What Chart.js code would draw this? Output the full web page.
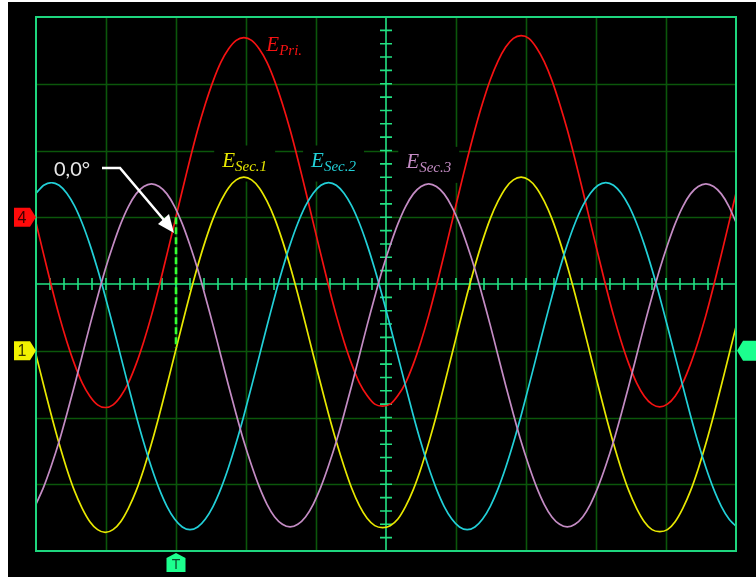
<!DOCTYPE html>
<html>
<head>
<meta charset="utf-8">
<script src="https://cdn.jsdelivr.net/npm/chart.js@4/dist/chart.umd.min.js"></script>
<style>
  html, body { margin: 0; padding: 0; background: #fff; overflow: hidden; }
  canvas { display: block; }
</style>
</head>
<body>
<canvas id="scope" width="756" height="577"></canvas>
<script>
// Sample instants, in horizontal divisions (10 divisions across the screen)
const times = [
  0.00, 0.11, 0.22, 0.33, 0.44, 0.55, 0.66, 0.77, 0.88, 0.99,
  1.10, 1.21, 1.32, 1.43, 1.54, 1.65, 1.76, 1.87, 1.98, 2.09,
  2.20, 2.31, 2.42, 2.53, 2.64, 2.75, 2.86, 2.97, 3.08, 3.19,
  3.30, 3.41, 3.52, 3.63, 3.74, 3.85, 3.96, 4.07, 4.18, 4.29,
  4.40, 4.51, 4.62, 4.73, 4.84, 4.95, 5.06, 5.17, 5.28, 5.39,
  5.50, 5.61, 5.72, 5.83, 5.94, 6.05, 6.16, 6.27, 6.38, 6.49,
  6.60, 6.71, 6.82, 6.93, 7.04, 7.15, 7.26, 7.37, 7.48, 7.59,
  7.70, 7.81, 7.92, 8.03, 8.14, 8.25, 8.36, 8.47, 8.58, 8.69,
  8.80, 8.91, 9.02, 9.13, 9.24, 9.35, 9.46, 9.57, 9.68, 9.79,
  9.90, 10.01
];

// Primary voltage (channel 4), vertical divisions
const ePri = [
  0.92, 0.44, -0.03, -0.47, -0.86, -1.20, -1.48, -1.68, -1.81, -1.85, -1.81, -1.68, -1.48, -1.20, -0.86, -0.47, -0.03, 0.44,
  0.92, 1.40, 1.87, 2.31, 2.70, 3.04, 3.32, 3.52, 3.65, 3.69, 3.65, 3.52, 3.32, 3.04, 2.70, 2.31, 1.87, 1.40,
  0.92, 0.44, -0.03, -0.47, -0.86, -1.20, -1.48, -1.67, -1.80, -1.83, -1.80, -1.67, -1.48, -1.20, -0.86, -0.47, -0.03, 0.44,
  0.92, 1.40, 1.87, 2.31, 2.71, 3.06, 3.34, 3.55, 3.68, 3.72, 3.68, 3.54, 3.33, 3.05, 2.70, 2.31, 1.87, 1.40,
  0.92, 0.44, -0.03, -0.47, -0.86, -1.20, -1.48, -1.68, -1.80, -1.84, -1.80, -1.68, -1.48, -1.20, -0.86, -0.47, -0.03, 0.44,
  0.92, 1.40
];

// Secondary phase 1 (channel 1)
const eSec1 = [
  -1.06, -1.52, -1.97, -2.39, -2.77, -3.10, -3.36, -3.56, -3.68, -3.72, -3.68, -3.56, -3.36, -3.10, -2.77, -2.39, -1.97, -1.52,
  -1.06, -0.60, -0.15, 0.27, 0.65, 0.98, 1.24, 1.44, 1.56, 1.60, 1.56, 1.44, 1.24, 0.98, 0.65, 0.27, -0.15, -0.60,
  -1.06, -1.51, -1.95, -2.36, -2.73, -3.06, -3.32, -3.51, -3.62, -3.65, -3.62, -3.52, -3.33, -3.08, -2.76, -2.38, -1.97, -1.52,
  -1.06, -0.60, -0.15, 0.27, 0.65, 0.98, 1.24, 1.44, 1.56, 1.60, 1.56, 1.44, 1.24, 0.98, 0.65, 0.27, -0.15, -0.60,
  -1.06, -1.52, -1.97, -2.39, -2.77, -3.10, -3.36, -3.56, -3.68, -3.71, -3.68, -3.56, -3.36, -3.10, -2.77, -2.39, -1.97, -1.52,
  -1.06, -0.60
];

// Secondary phase 2
const eSec2 = [
  1.36, 1.48, 1.52, 1.48, 1.36, 1.17, 0.91, 0.59, 0.22, -0.19, -0.63, -1.08, -1.53, -1.97, -2.38, -2.75, -3.07, -3.33,
  -3.52, -3.64, -3.68, -3.64, -3.52, -3.33, -3.07, -2.75, -2.38, -1.97, -1.53, -1.08, -0.63, -0.19, 0.22, 0.59, 0.91, 1.17,
  1.36, 1.48, 1.52, 1.48, 1.36, 1.17, 0.91, 0.59, 0.22, -0.19, -0.63, -1.08, -1.53, -1.97, -2.38, -2.75, -3.07, -3.33,
  -3.52, -3.64, -3.68, -3.64, -3.52, -3.33, -3.07, -2.75, -2.38, -1.97, -1.53, -1.08, -0.63, -0.19, 0.22, 0.59, 0.91, 1.17,
  1.36, 1.48, 1.52, 1.48, 1.36, 1.17, 0.91, 0.59, 0.22, -0.19, -0.63, -1.08, -1.53, -1.97, -2.38, -2.75, -3.07, -3.33,
  -3.52, -3.64
];

// Secondary phase 3
const eSec3 = [
  -3.30, -3.04, -2.72, -2.36, -1.95, -1.52, -1.07, -0.62, -0.19, 0.22, 0.58, 0.90, 1.16, 1.35, 1.46, 1.50, 1.46, 1.35,
  1.16, 0.90, 0.58, 0.22, -0.19, -0.62, -1.07, -1.52, -1.95, -2.36, -2.72, -3.04, -3.30, -3.49, -3.60, -3.64, -3.60, -3.49,
  -3.30, -3.04, -2.72, -2.36, -1.95, -1.52, -1.07, -0.62, -0.19, 0.22, 0.58, 0.90, 1.16, 1.35, 1.46, 1.50, 1.46, 1.35,
  1.16, 0.90, 0.58, 0.22, -0.19, -0.62, -1.07, -1.52, -1.95, -2.36, -2.72, -3.04, -3.30, -3.49, -3.60, -3.64, -3.60, -3.49,
  -3.30, -3.04, -2.72, -2.36, -1.95, -1.52, -1.07, -0.62, -0.19, 0.22, 0.58, 0.90, 1.16, 1.35, 1.46, 1.50, 1.46, 1.35,
  1.16, 0.90
];

// Screen divisions and channel markers
const xRange = [0, 10];
const yRange = [-4, 4];
const ch4Offset = 1;
const ch1Offset = -1;
const triggerTime = 2.0;
const triggerLevel = -1;
const phaseLabel = '0,0°';

const COLORS = {
  pri: '#f51212',
  sec1: '#e8e800',
  sec2: '#22d0d8',
  sec3: '#c48cc4',
  grid: '#0b560b',
  axis: '#22e283',
  frame: '#1ed67e',
  marker: '#1cff8e',
  dash: '#33ff33'
};

const toPoints = vals => times.map((t, i) => ({ x: t, y: vals[i] }));

const scopeScreen = {
  id: 'scopeScreen',
  beforeDraw(chart) {
    const ctx = chart.ctx;
    ctx.save();
    ctx.fillStyle = '#ffffff';
    ctx.fillRect(0, 0, chart.width, chart.height);
    ctx.fillStyle = '#000000';
    ctx.fillRect(8, 2, chart.width - 8, chart.height - 2);
    ctx.restore();
  },
  beforeDatasetsDraw(chart) {
    const ctx = chart.ctx;
    const xs = chart.scales.x, ys = chart.scales.y;
    const a = chart.chartArea;
    const x0 = xs.getPixelForValue(5), y0 = ys.getPixelForValue(0);
    ctx.save();
    // graticule
    ctx.strokeStyle = COLORS.grid;
    ctx.lineWidth = 1.6;
    ctx.beginPath();
    for (let i = 1; i < 10; i++) {
      if (i === 5) continue;
      const px = Math.round(xs.getPixelForValue(i)) + 0.5;
      ctx.moveTo(px, a.top); ctx.lineTo(px, a.bottom);
    }
    for (let j = -3; j <= 3; j++) {
      if (j === 0) continue;
      const py = Math.round(ys.getPixelForValue(j)) + 0.5;
      ctx.moveTo(a.left, py); ctx.lineTo(a.right, py);
    }
    ctx.stroke();

    // centre axes with minor ticks
    ctx.strokeStyle = COLORS.axis;
    ctx.lineWidth = 1.6;
    ctx.beginPath();
    ctx.moveTo(a.left, y0); ctx.lineTo(a.right, y0);
    ctx.moveTo(x0, a.top); ctx.lineTo(x0, a.bottom);
    for (let k = 1; k < 50; k++) {
      const px = xs.getPixelForValue(k * 0.2);
      ctx.moveTo(px, y0 - 6); ctx.lineTo(px, y0 + 6);
    }
    for (let k = 1; k < 40; k++) {
      const py = ys.getPixelForValue(-4 + k * 0.2);
      ctx.moveTo(x0 - 6, py); ctx.lineTo(x0 + 6, py);
    }
    ctx.stroke();

    // trace labels on black boxes
    const labels = [
      { x: 3.29, y: 3.49, main: 'E', sub: 'Pri.', color: COLORS.pri, box: false },
      { x: 2.66, y: 1.76, main: 'E', sub: 'Sec.1', color: COLORS.sec1, box: true },
      { x: 3.93, y: 1.76, main: 'E', sub: 'Sec.2', color: COLORS.sec2, box: true },
      { x: 5.29, y: 1.74, main: 'E', sub: 'Sec.3', color: COLORS.sec3, box: true }
    ];
    labels.forEach(l => {
      const px = xs.getPixelForValue(l.x), py = ys.getPixelForValue(l.y);
      ctx.font = 'italic 21px "Liberation Serif", serif';
      const wMain = ctx.measureText(l.main).width;
      ctx.font = 'italic 15px "Liberation Serif", serif';
      const wSub = ctx.measureText(l.sub).width;
      if (l.box) {
        ctx.fillStyle = '#000';
        ctx.fillRect(px - 8, py - 21, wMain + wSub + 16, 36);
      }
      ctx.fillStyle = l.color;
      ctx.font = 'italic 21px "Liberation Serif", serif';
      ctx.fillText(l.main, px, py);
      ctx.font = 'italic 15px "Liberation Serif", serif';
      ctx.fillText(l.sub, px + wMain, py + 4);
    });
    ctx.restore();
  },
  afterDatasetsDraw(chart) {
    const ctx = chart.ctx;
    const xs = chart.scales.x, ys = chart.scales.y;
    const a = chart.chartArea;
    ctx.save();
    // trigger reference dashed line
    const tx = xs.getPixelForValue(triggerTime);
    ctx.strokeStyle = COLORS.dash;
    ctx.lineWidth = 2.6;
    ctx.setLineDash([7, 3]);
    ctx.beginPath();
    ctx.moveTo(tx, ys.getPixelForValue(ch4Offset));
    ctx.lineTo(tx, ys.getPixelForValue(ch1Offset) - 3);
    ctx.stroke();
    ctx.setLineDash([]);

    // phase annotation with arrow
    ctx.fillStyle = '#000';
    ctx.fillRect(50, 154, 50, 28);
    ctx.fillStyle = '#e8e8e8';
    ctx.font = '20px Lato, "Open Sans", sans-serif';
    ctx.fillText(phaseLabel, 54, 176);
    ctx.strokeStyle = '#ffffff';
    ctx.lineWidth = 2.6;
    ctx.beginPath();
    ctx.moveTo(102, 168);
    ctx.lineTo(120, 168);
    ctx.lineTo(164, 220);
    ctx.stroke();
    ctx.fillStyle = '#ffffff';
    ctx.beginPath();
    ctx.moveTo(174, 233);
    ctx.lineTo(158, 224);
    ctx.lineTo(169, 214);
    ctx.closePath();
    ctx.fill();

    // screen frame
    ctx.strokeStyle = COLORS.frame;
    ctx.lineWidth = 2;
    ctx.strokeRect(a.left, a.top, a.right - a.left, a.bottom - a.top);
    ctx.restore();
  },
  afterDraw(chart) {
    const ctx = chart.ctx;
    const xs = chart.scales.x, ys = chart.scales.y;
    const a = chart.chartArea;
    ctx.save();
    const leftTag = (y, fill, text, textColor) => {
      ctx.fillStyle = fill;
      ctx.beginPath();
      ctx.moveTo(14, y - 9.5);
      ctx.lineTo(30, y - 9.5);
      ctx.lineTo(a.left, y);
      ctx.lineTo(30, y + 9.5);
      ctx.lineTo(14, y + 9.5);
      ctx.closePath();
      ctx.fill();
      ctx.fillStyle = textColor;
      ctx.font = '16px "Liberation Sans", sans-serif';
      ctx.textAlign = 'center';
      ctx.textBaseline = 'middle';
      ctx.fillText(text, 22, y + 1);
    };
    leftTag(ys.getPixelForValue(ch4Offset), '#ff0a0a', '4', '#3a0000');
    leftTag(ys.getPixelForValue(ch1Offset), '#f2f200', '1', '#3a3a00');

    // trigger level tag (right)
    const ty = ys.getPixelForValue(triggerLevel);
    ctx.fillStyle = COLORS.marker;
    ctx.beginPath();
    ctx.moveTo(a.right + 1, ty);
    ctx.lineTo(a.right + 7, ty - 10);
    ctx.lineTo(756, ty - 10);
    ctx.lineTo(756, ty + 10);
    ctx.lineTo(a.right + 7, ty + 10);
    ctx.closePath();
    ctx.fill();

    // trigger position tag (bottom)
    const tx = xs.getPixelForValue(triggerTime);
    ctx.beginPath();
    ctx.moveTo(tx - 9.5, 572);
    ctx.lineTo(tx - 9.5, 558);
    ctx.lineTo(tx, a.bottom + 2);
    ctx.lineTo(tx + 9.5, 558);
    ctx.lineTo(tx + 9.5, 572);
    ctx.closePath();
    ctx.fill();
    ctx.fillStyle = '#0c4a2c';
    ctx.font = '14px "Liberation Sans", sans-serif';
    ctx.textAlign = 'center';
    ctx.textBaseline = 'middle';
    ctx.fillText('T', tx, 565);
    ctx.restore();
  }
};

const trace = (label, vals, color) => ({
  label,
  data: toPoints(vals),
  borderColor: color,
  borderWidth: 1.7,
  pointRadius: 0,
  tension: 0.25,
  fill: false
});

new Chart(document.getElementById('scope'), {
  type: 'line',
  data: {
    datasets: [
      trace('E Sec.3', eSec3, COLORS.sec3),
      trace('E Sec.2', eSec2, COLORS.sec2),
      trace('E Pri.', ePri, COLORS.pri),
      trace('E Sec.1', eSec1, COLORS.sec1)
    ]
  },
  options: {
    responsive: false,
    animation: false,
    events: [],
    layout: { padding: { left: 36, right: 20, top: 17, bottom: 26 } },
    scales: {
      x: { type: 'linear', min: xRange[0], max: xRange[1], display: false },
      y: { type: 'linear', min: yRange[0], max: yRange[1], display: false }
    },
    plugins: { legend: { display: false }, tooltip: { enabled: false } }
  },
  plugins: [scopeScreen]
});
</script>
</body>
</html>
